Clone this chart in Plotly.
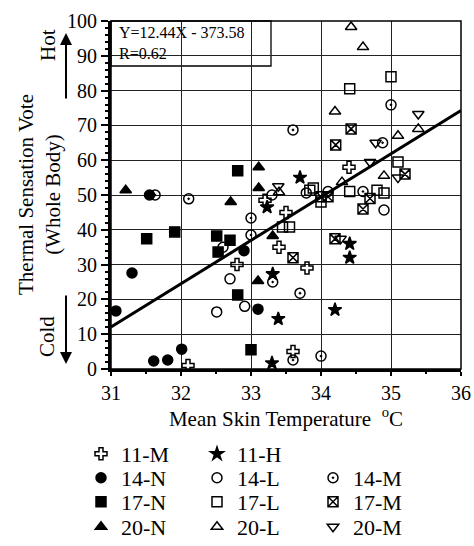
import plotly.graph_objects as go

FONT = "Liberation Serif"

# ---- data ----
m11_x = [32.1, 32.8, 33.4, 33.5, 33.8, 33.6, 34.4, 33.2]
m11_y = [1, 30, 35, 45, 29, 5, 58, 48.5]
h11_x = [33.7, 33.23, 34.41, 34.41, 33.31, 33.39, 34.2, 33.3]
h11_y = [55, 46.5, 36, 32, 27.3, 14.4, 17, 1.7]
n14_x = [31.07, 31.3, 31.61, 31.81, 32.01, 31.55, 33.1, 32.9]
n14_y = [16.7, 27.6, 2.3, 2.6, 5.7, 50, 17.2, 34]
l14_x = [32.51, 32.7, 32.91, 32.6, 34.9, 33.79, 34.1, 33.3]
l14_y = [16.4, 25.9, 18, 35, 45.7, 50.6, 51, 50]
m14_x = [32.11, 33.6, 35.0, 33.7, 33.31, 33.6, 34.0, 33.0, 33.0, 31.63, 34.88, 34.6]
m14_y = [48.9, 68.7, 75.9, 21.8, 25, 2.6, 3.7, 43.4, 38.5, 50, 65, 51]
n17_x = [31.51, 31.91, 32.51, 32.53, 32.7, 32.81, 32.81, 33.0]
n17_y = [37.4, 39.4, 38.2, 33.6, 37, 57, 21.3, 5.5]
l17_x = [35.0, 34.41, 35.1, 33.89, 34.0, 34.41, 34.8, 34.9, 33.45, 33.55, 33.84]
l17_y = [84, 80.5, 59.5, 52, 48, 51, 51.4, 50.6, 40.8, 40.8, 51.4]
m17_x = [34.43, 34.21, 35.2, 34.6, 34.2, 33.6, 34.0, 34.1, 34.7]
m17_y = [69, 64.4, 56, 46, 37.4, 32, 49.5, 49.5, 49]
n20_x = [31.21, 32.71, 33.11, 33.11, 33.31, 33.1]
n20_y = [51.4, 48, 58, 52, 38.2, 25.3]
l20_x = [34.43, 34.6, 34.2, 35.39, 35.1, 34.9, 34.3, 33.4]
l20_y = [98.3, 92.5, 74, 69, 67, 55.5, 53.7, 50.8]
m20_x = [35.39, 35.1, 34.7, 34.78, 33.39, 34.28]
m20_y = [73.3, 55, 59.5, 65, 52.5, 37.4]

slope, intercept = 12.44, -373.58
x_range = [31, 36]
y_range = [0, 100]

series = [
    ("11-M", m11_x, m11_y, "cross-open", "legend"),
    ("11-H", h11_x, h11_y, "star", "legend"),
    ("14-N", n14_x, n14_y, "circle", "legend2"),
    ("14-L", l14_x, l14_y, "circle-open", "legend2"),
    ("14-M", m14_x, m14_y, "circle-open-dot", "legend2"),
    ("17-N", n17_x, n17_y, "square", "legend3"),
    ("17-L", l17_x, l17_y, "square-open", "legend3"),
    ("17-M", m17_x, m17_y, "square-x-open", "legend3"),
    ("20-N", n20_x, n20_y, "triangle-up", "legend4"),
    ("20-L", l20_x, l20_y, "triangle-up-open", "legend4"),
    ("20-M", m20_x, m20_y, "triangle-down-open", "legend4"),
]

fig = go.Figure()

# regression line
fig.add_trace(go.Scatter(
    x=x_range, y=[slope * v + intercept for v in x_range],
    mode="lines", line=dict(color="black", width=3),
    showlegend=False, hoverinfo="skip"))

for name, xs, ys, sym, leg in series:
    fig.add_trace(go.Scatter(
        x=xs, y=ys, mode="markers", name=name, legend=leg,
        marker=dict(symbol=sym, size=10, color="black",
                    line=dict(color="black", width=1.5))))

W, H = 474, 546
L, R, T, B = 111, 13, 21, 177

def legend_row(py):
    return dict(orientation="h", xref="container", yref="container",
                x=81 / W, y=1 - py / H, xanchor="left", yanchor="middle",
                entrywidth=71, font=dict(family=FONT, size=22, color="black"),
                bgcolor="rgba(0,0,0,0)", borderwidth=0, itemclick=False)

def ann(text, px, py, size=20, angle=-90):
    return dict(text=text, xref="paper", yref="paper",
                x=(px - L) / 350, y=(369 - py) / 348,
                xanchor="center", yanchor="middle", textangle=angle,
                showarrow=False, font=dict(family=FONT, size=size, color="black"))

fig.update_layout(
    width=W, height=H,
    margin=dict(l=L, r=R, t=T, b=B, autoexpand=False),
    paper_bgcolor="white", plot_bgcolor="white",
    font=dict(family=FONT, color="black", size=19),
    legend=legend_row(454),
    legend2=legend_row(478),
    legend3=legend_row(502),
    legend4=legend_row(527),
    xaxis=dict(range=x_range, dtick=1, tick0=31, showgrid=True, automargin=False,
               gridcolor="#222", gridwidth=1.3, zeroline=False,
               showline=True, linecolor="black", linewidth=3,
               ticks="outside", ticklen=4, tickwidth=2, tickcolor="black",
               tickfont=dict(family=FONT, size=20, color="black"),
               minor=dict(dtick=0.5, ticks="outside", ticklen=2, tickcolor="black", showgrid=False),
               title=dict(text="Mean Skin Temperature  <sup>o</sup>C",
                          font=dict(family=FONT, size=21, color="black"), standoff=0)),
    yaxis=dict(range=y_range, dtick=10, showgrid=True, automargin=False,
               gridcolor="#222", gridwidth=1.3, zeroline=False,
               showline=True, linecolor="black", linewidth=3,
               ticks="outside", ticklen=7, tickwidth=2, tickcolor="black",
               tickfont=dict(family=FONT, size=20, color="black"),
               minor=dict(dtick=2, ticks="outside", ticklen=3, tickcolor="black", showgrid=False)),
    shapes=[
        dict(type="rect", xref="paper", yref="paper", x0=0, x1=1, y0=0, y1=1,
             line=dict(color="black", width=1.5), layer="above"),
        dict(type="rect", xref="paper", yref="paper", x0=0, x1=(271 - L) / 350,
             y0=(369 - 66) / 348, y1=1, fillcolor="white",
             line=dict(color="black", width=1.3), layer="between"),
    ],
    annotations=[
        dict(text="Y=12.44X - 373.58<br>R=0.62", xref="paper", yref="paper",
             x=(117 - L) / 350, y=(369 - 22) / 348, xanchor="left", yanchor="top",
             align="left", showarrow=False, font=dict(family=FONT, size=16, color="black")),
        ann("Thermal Sensation Vote<br>(Whole Body)", 39, 195, size=21),
        ann("Hot", 48, 45, size=21),
        ann("Cold", 47, 337, size=21),
        dict(text="", xref="paper", yref="paper", x=(66 - L) / 350,
             y=(369 - 33) / 348, ax=0, ay=67, showarrow=True, arrowhead=2,
             arrowsize=1.2, arrowwidth=2, arrowcolor="black"),
        dict(text="", xref="paper", yref="paper", x=(66 - L) / 350,
             y=(369 - 364) / 348, ax=0, ay=-70, showarrow=True, arrowhead=2,
             arrowsize=1.2, arrowwidth=2, arrowcolor="black"),
    ],
)

fig.write_html("out.html")
